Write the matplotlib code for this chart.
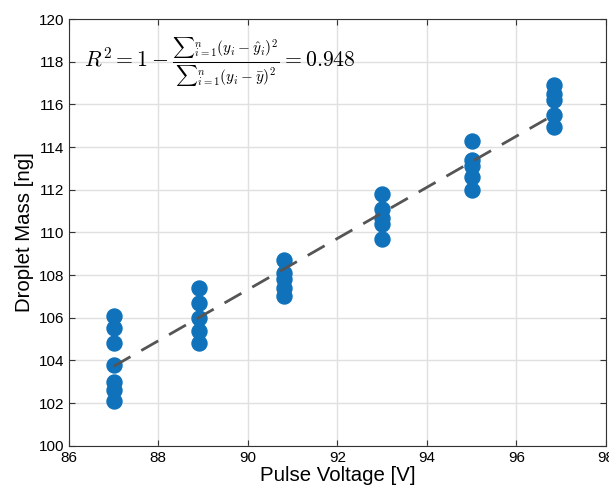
import matplotlib
matplotlib.use("Agg")
import matplotlib.pyplot as plt
import numpy as np

plt.rcParams['font.family'] = ['Liberation Sans', 'DejaVu Sans']
plt.rcParams['mathtext.fontset'] = 'cm'

# pulse voltage groups and measured droplet masses
voltages = [87.0, 88.9, 90.8, 93.0, 95.0, 96.85]
masses = [
    [106.1, 105.5, 104.8, 103.8, 103.0, 102.6, 102.1],
    [107.4, 106.7, 106.0, 105.4, 104.8],
    [108.7, 108.1, 107.8, 107.4, 107.0],
    [111.8, 111.1, 110.7, 110.4, 109.7],
    [114.3, 113.4, 113.1, 112.6, 112.0],
    [116.9, 116.5, 116.2, 115.5, 114.95],
]
r2_text = (r'$R^2 = 1 - \frac{{\sum}_{i=1}^{n}(y_i - \hat{y}_i)^2}'
           r'{{\sum}_{i=1}^{n}(y_i - \bar{y})^2} = 0.948$')

xs = np.concatenate([[v] * len(m) for v, m in zip(voltages, masses)])
ys = np.concatenate(masses)
slope, intercept = np.polyfit(xs, ys, 1)

fig = plt.figure(figsize=(6.09, 4.91), dpi=100)
ax = fig.add_axes([0.113, 0.092, 0.882, 0.869])

ax.plot(xs, ys, 'o', color='#0f72bb', markersize=10.8, zorder=3)
xl = np.array([voltages[0], voltages[-1]])
ax.plot(xl, slope * xl + intercept, '--', color='#555555', lw=2.0,
        dashes=(7, 4.5), zorder=4)

ax.set_xlim(86, 98)
ax.set_ylim(100, 120)
ax.set_xticks(np.arange(86, 99, 2))
ax.set_yticks(np.arange(100, 121, 2))
ax.grid(True, color='#e0e0e0', lw=1)
ax.set_axisbelow(True)
ax.tick_params(direction='in', top=True, right=True, labelsize=11,
               length=4, color='#333333')
for s in ax.spines.values():
    s.set_color('#333333')

ax.set_xlabel('Pulse Voltage [V]', fontsize=14.7, labelpad=1)
ax.set_ylabel('Droplet Mass [ng]', fontsize=14.7, labelpad=3)

ax.text(86.35, 118, r2_text, fontsize=15.7, va='center', ha='left')

fig.savefig('out.png', dpi=100)
